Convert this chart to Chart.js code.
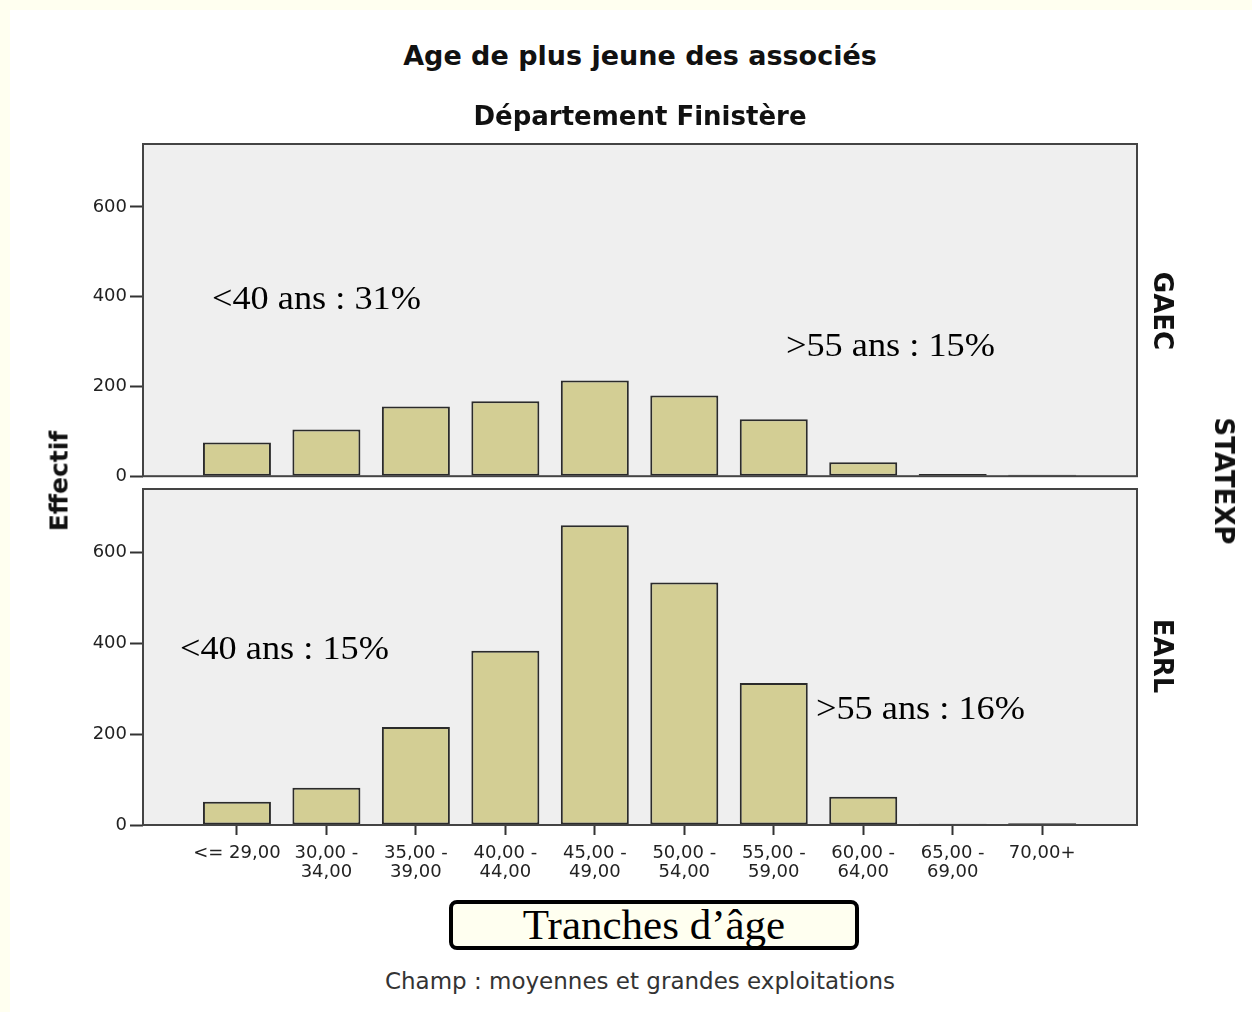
<!DOCTYPE html>
<html lang="fr">
<head>
<meta charset="utf-8">
<title>Age de plus jeune des associés</title>
<script src="https://cdn.jsdelivr.net/npm/chart.js@4.4.1/dist/chart.umd.min.js"></script>
<style>
  html, body { margin: 0; padding: 0; }
  body { background: #FFFFF0; width: 1252px; height: 1012px; overflow: hidden; position: relative; }
  #sheet { position: absolute; left: 10px; top: 10px; right: 0; bottom: 0; background: #fff; }
  canvas { position: absolute; left: 0; }
  #topPanel { top: 130px; }
  #bottomPanel { top: 475px; }
  .txt { position: absolute; white-space: nowrap; }
  .title { font-family: 'DejaVu Sans', sans-serif; font-weight: bold; color: #111; width: 1280px; left: 0; text-align: center; }
  .note { font-family: 'Liberation Serif', 'Times New Roman', serif; font-size: 33px; line-height: 33px; color: #000; transform: scaleX(1.1); transform-origin: left center; }
  .rot { font-family: 'DejaVu Sans', sans-serif; font-weight: bold; color: #111; line-height: 1; }
  #xTitle { position: absolute; left: 449px; top: 900px; width: 410px; height: 50px; box-sizing: border-box;
    border: 4px solid #000; border-radius: 8px; background: #FFFFF0; text-align: center;
    font-family: 'Liberation Serif', 'Times New Roman', serif; font-size: 43px; line-height: 42px; color: #000; }
</style>
</head>
<body>
<div id="sheet"></div>
<canvas id="topPanel" width="1252" height="360"></canvas>
<canvas id="bottomPanel" width="1252" height="425"></canvas>

<div class="txt title" style="top:42px; font-size:27px; line-height:27px;">Age de plus jeune des associés</div>
<div class="txt title" style="top:103px; font-size:26px; line-height:26px;">Département Finistère</div>

<div class="txt note" style="left:212px; top:282px;">&lt;40 ans : 31%</div>
<div class="txt note" style="left:786px; top:329px;">&gt;55 ans : 15%</div>
<div class="txt note" style="left:180px; top:632px;">&lt;40 ans : 15%</div>
<div class="txt note" style="left:816px; top:692px;">&gt;55 ans : 16%</div>

<div class="txt rot" style="left:59px; top:481px; font-size:25px; transform:translate(-50%,-50%) rotate(-90deg);">Effectif</div>
<div class="txt rot" style="left:1163px; top:311px; font-size:26px; transform:translate(-50%,-50%) rotate(90deg);">GAEC</div>
<div class="txt rot" style="left:1163px; top:656px; font-size:26px; transform:translate(-50%,-50%) rotate(90deg);">EARL</div>
<div class="txt rot" style="left:1224px; top:481px; font-size:26px; transform:translate(-50%,-50%) rotate(90deg);">STATEXP</div>

<div id="xTitle">Tranches d’âge</div>
<div class="txt title" style="top:970px; font-size:23px; line-height:23px; font-weight:normal; color:#333;">Champ : moyennes et grandes exploitations</div>

<script>
// --- DATA ---
const categories = ['<= 29,00', '30,00 - 34,00', '35,00 - 39,00', '40,00 - 44,00', '45,00 - 49,00',
  '50,00 - 54,00', '55,00 - 59,00', '60,00 - 64,00', '65,00 - 69,00', '70,00+'];
const tickLabels = ['<= 29,00', ['30,00 -', '34,00'], ['35,00 -', '39,00'], ['40,00 -', '44,00'], ['45,00 -', '49,00'],
  ['50,00 -', '54,00'], ['55,00 -', '59,00'], ['60,00 -', '64,00'], ['65,00 -', '69,00'], '70,00+'];
const gaecValues = [75, 104, 155, 167, 213, 180, 127, 31, 5, 3];
const earlValues = [51, 82, 216, 384, 660, 534, 313, 62, 3, 4];
const yTicks = [0, 200, 400, 600];
const yMax = 740;

// --- STYLE ---
const BAR_FILL = '#D3CE94';
const BAR_EDGE = '#2b2b2b';
const PANEL_BG = '#EFEFEF';
const FRAME = '#444444';

Chart.defaults.font.family = "'DejaVu Sans', sans-serif";
Chart.defaults.animation = false;

// panel background + frame around the chart area
const panelFrame = {
  id: 'panelFrame',
  beforeDatasetsDraw(chart) {
    const { ctx, chartArea: a } = chart;
    ctx.save();
    ctx.fillStyle = PANEL_BG;
    ctx.fillRect(a.left, a.top, a.right - a.left, a.bottom - a.top);
    ctx.restore();
  },
  afterDatasetsDraw(chart) {
    const { ctx, chartArea: a } = chart;
    ctx.save();
    ctx.strokeStyle = FRAME;
    ctx.lineWidth = 2;
    ctx.strokeRect(a.left, a.top, a.right - a.left, a.bottom - a.top);
    ctx.restore();
  }
};

function makePanel(canvasId, values, showX, bottomPad) {
  return new Chart(document.getElementById(canvasId), {
    type: 'bar',
    data: {
      datasets: [{
        data: categories.map((c, i) => ({ x: i, y: values[i] })),
        backgroundColor: BAR_FILL,
        borderColor: BAR_EDGE,
        borderWidth: 2,
        borderSkipped: false,
        barPercentage: 0.95,
        categoryPercentage: 0.8
      }]
    },
    options: {
      responsive: false,
      layout: { padding: { left: 0, right: 115, top: 14, bottom: bottomPad } },
      plugins: { legend: { display: false }, tooltip: { enabled: false } },
      scales: {
        x: {
          type: 'linear',
          display: showX,
          min: -1.05,
          max: 10.06,
          offset: false,
          afterBuildTicks(scale) { scale.ticks = categories.map((c, i) => ({ value: i })); },
          afterFit(scale) { if (showX) scale.height = 75; },
          grid: { offset: false, drawOnChartArea: false, drawTicks: true, tickLength: 10, tickColor: '#333', tickWidth: 2 },
          border: { display: false },
          ticks: {
            autoSkip: false,
            maxRotation: 0,
            padding: 8,
            color: '#222',
            font: { size: 18, lineHeight: 1.1 },
            callback: (v, i) => tickLabels[i]
          }
        },
        y: {
          min: 0,
          max: yMax,
          afterBuildTicks(scale) { scale.ticks = yTicks.map(v => ({ value: v })); },
          afterFit(scale) { scale.width = 143; },
          grid: { drawOnChartArea: false, drawTicks: true, tickLength: 13, tickColor: '#333', tickWidth: 2 },
          border: { display: false },
          ticks: { padding: 3, color: '#222', font: { size: 18 } }
        }
      }
    },
    plugins: [panelFrame]
  });
}

makePanel('topPanel', gaecValues, false, 12);
makePanel('bottomPanel', earlValues, true, 0);
</script>
</body>
</html>
